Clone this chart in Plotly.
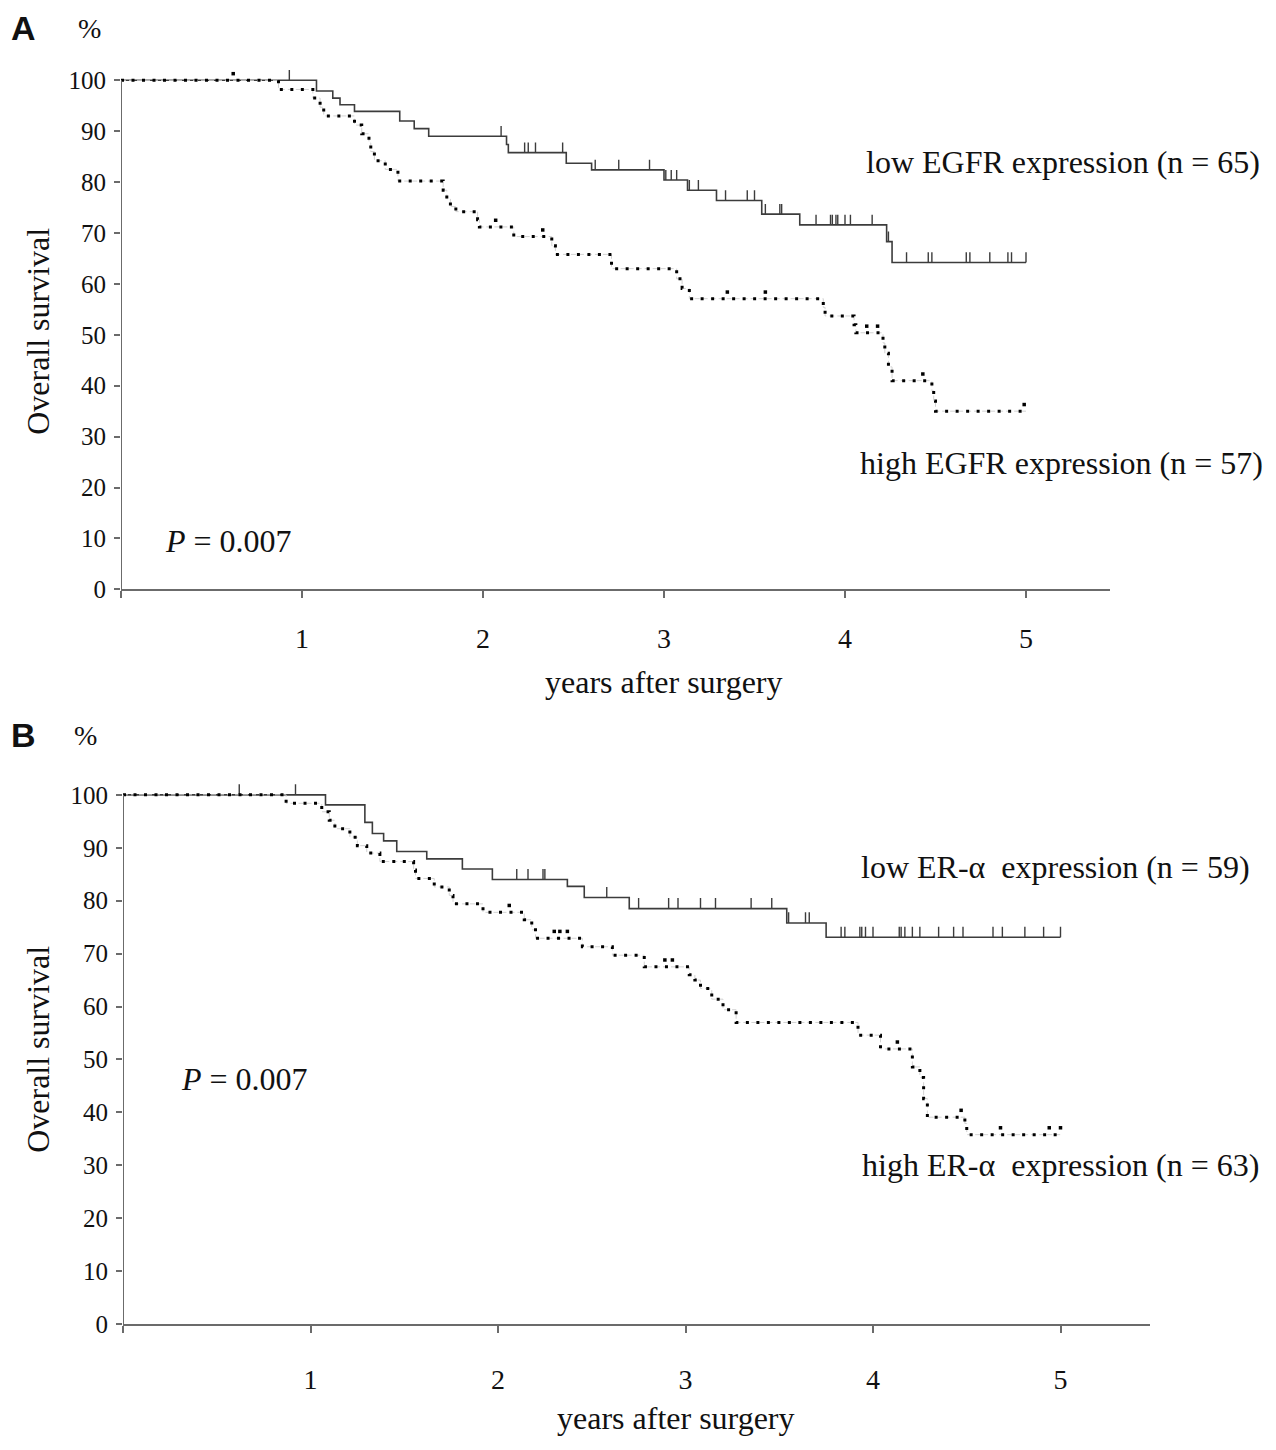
import numpy as np
import plotly.graph_objects as go

W, H = 1276, 1450

# ---------------- data ----------------
# Panel A: EGFR
a_low_time = [1.08, 1.17, 1.21, 1.29, 1.54, 1.62, 1.70, 2.13, 2.14, 2.46, 2.60, 3.00, 3.13, 3.29, 3.54, 3.75, 4.23, 4.26]
a_low_surv = [97.9, 96.5, 95.2, 93.9, 92.0, 90.5, 89.0, 87.4, 85.8, 83.7, 82.4, 80.4, 78.4, 76.4, 73.7, 71.6, 68.3, 64.2]
a_low_cens = [0.93, 2.10, 2.23, 2.25, 2.29, 2.44, 2.62, 2.75, 2.92, 3.01, 3.04, 3.07, 3.14, 3.19, 3.34,
              3.46, 3.50, 3.56, 3.64, 3.65, 3.84, 3.92, 3.93, 3.95, 3.96, 4.00, 4.03, 4.15, 4.24, 4.34,
              4.46, 4.48, 4.67, 4.69, 4.80, 4.90, 4.92, 5.00]

a_high_time = [0.87, 1.06, 1.10, 1.12, 1.29, 1.33, 1.37, 1.38, 1.40, 1.46, 1.53, 1.78, 1.80, 1.82, 1.85,
               1.97, 1.98, 2.17, 2.38, 2.40, 2.71, 3.07, 3.10, 3.14, 3.88, 3.89, 4.05, 4.06, 4.21, 4.22,
               4.24, 4.26, 4.48, 4.49, 4.50]
a_high_surv = [98.2, 96.5, 94.7, 93.0, 91.2, 89.5, 87.7, 86.0, 84.2, 82.5, 80.2, 78.4, 76.7, 75.2, 74.2,
               72.6, 71.2, 69.3, 67.5, 65.8, 63.0, 61.0, 59.1, 57.1, 55.4, 53.7, 52.0, 50.4, 48.4, 46.4,
               43.7, 41.0, 39.0, 37.0, 35.0]
a_high_cens = [0.62, 2.07, 2.33, 3.35, 3.56, 4.12, 4.18, 4.43, 4.99]

# Panel B: ER-alpha
b_low_time = [1.08, 1.29, 1.33, 1.39, 1.46, 1.62, 1.81, 1.97, 2.37, 2.46, 2.70, 3.54, 3.75]
b_low_surv = [98.1, 94.8, 92.7, 91.3, 89.3, 87.9, 86.0, 84.0, 82.7, 80.6, 78.5, 75.8, 73.1]
b_low_cens = [0.62, 0.92, 2.10, 2.16, 2.24, 2.25, 2.58, 2.75, 2.91, 2.96, 3.08, 3.16, 3.35, 3.46, 3.55,
              3.64, 3.66, 3.83, 3.85, 3.93, 3.94, 3.96, 4.00, 4.14, 4.15, 4.17, 4.21, 4.25, 4.35, 4.43,
              4.48, 4.64, 4.69, 4.81, 4.91, 5.00]

b_high_time = [0.87, 1.06, 1.10, 1.13, 1.21, 1.25, 1.30, 1.37, 1.55, 1.56, 1.66, 1.74, 1.76, 1.92, 2.14,
               2.18, 2.20, 2.45, 2.61, 2.78, 3.02, 3.05, 3.08, 3.14, 3.20, 3.27, 3.92, 4.04, 4.21, 4.25,
               4.27, 4.29, 4.49, 4.50]
b_high_surv = [98.4, 96.8, 95.2, 93.6, 92.0, 90.4, 89.0, 87.4, 85.8, 84.2, 82.6, 81.0, 79.4, 77.8, 76.4,
               74.5, 72.9, 71.3, 69.7, 67.5, 66.0, 65.0, 63.4, 61.4, 59.4, 57.0, 54.6, 52.0, 48.6, 46.6,
               42.6, 39.1, 37.9, 35.8]
b_high_cens = [2.06, 2.30, 2.33, 2.37, 2.89, 2.93, 4.13, 4.47, 4.68, 4.94, 5.00]

follow_up_end = 5.0
x_ticks = [0, 1, 2, 3, 4, 5]
x_tick_text = ["", "1", "2", "3", "4", "5"]
y_ticks = list(range(0, 101, 10))

labels_a = ["low EGFR expression (n = 65)", "high EGFR expression (n = 57)"]
labels_b = ["low ER-\u03b1\u00a0 expression (n = 59)", "high ER-\u03b1\u00a0 expression (n = 63)"]
p_text = "<i>P</i> = 0.007"

# ---------------- helpers ----------------
SERIF = "Liberation Serif"
SANS = "Liberation Sans"
AX_COL = "#6b6b6b"
LINE_COL = "#3c3c3c"
PAGE_OFF = 8  # default body margin of the html page


def px(x):
    return (x - PAGE_OFF) / W


def py(y):
    return 1 - (y - PAGE_OFF) / H


def step_value(times, surv, t):
    idx = np.searchsorted(np.asarray(times), np.asarray(t), side="right")
    arr = np.concatenate([[100.0], np.asarray(surv, dtype=float)])
    return arr[idx]


def step_xy(times, surv):
    return [0.0] + list(times) + [follow_up_end], [100.0] + list(surv) + [surv[-1]]


fig = go.Figure()


def add_panel(xr, yr, low_t, low_s, low_c, high_t, high_s, high_c):
    lx, ly = step_xy(low_t, low_s)
    fig.add_trace(go.Scatter(x=lx, y=ly, mode="lines", xaxis=xr, yaxis=yr, showlegend=False,
                             line=dict(shape="hv", color=LINE_COL, width=1.6), hoverinfo="skip"))
    cy = step_value(low_t, low_s, low_c)
    n = len(low_c)
    fig.add_trace(go.Scatter(x=low_c, y=cy, mode="markers", xaxis=xr, yaxis=yr, showlegend=False,
                             marker=dict(size=1, color="rgba(0,0,0,0)"),
                             error_y=dict(type="data", symmetric=False, array=[2.0] * n,
                                          arrayminus=[0.0] * n, width=0, thickness=1.4, color=LINE_COL),
                             hoverinfo="skip"))
    hx, hy = step_xy(high_t, high_s)
    fig.add_trace(go.Scatter(x=hx, y=hy, mode="lines", xaxis=xr, yaxis=yr, showlegend=False,
                             line=dict(shape="hv", color="#d2d2d2", width=1, dash="5px,3px"),
                             hoverinfo="skip"))
    fig.add_trace(go.Scatter(x=hx, y=hy, mode="lines", xaxis=xr, yaxis=yr, showlegend=False,
                             line=dict(shape="hv", color="#000000", width=3, dash="3px,7.5px"),
                             hoverinfo="skip"))
    hcy = step_value(high_t, high_s, high_c) + 1.3
    fig.add_trace(go.Scatter(x=high_c, y=hcy, mode="markers", xaxis=xr, yaxis=yr, showlegend=False,
                             marker=dict(symbol="square", size=3.5, color="#000000"),
                             hoverinfo="skip", cliponaxis=False))


add_panel("x", "y", a_low_time, a_low_surv, a_low_cens, a_high_time, a_high_surv, a_high_cens)
add_panel("x2", "y2", b_low_time, b_low_surv, b_low_cens, b_high_time, b_high_surv, b_high_cens)

# axis geometry (target pixels in the screenshot)
A_x0, A_x1, A_pxyr = 121, 1110, 181.0
A_y0, A_y100 = 595, 81
B_x0, B_x1, B_pxyr = 123, 1150, 187.5
B_y0, B_y100 = 1337, 802.5
Y_TOP = 104.5

A_ytop = A_y0 - (A_y0 - A_y100) * Y_TOP / 100
B_ytop = B_y0 - (B_y0 - B_y100) * Y_TOP / 100


def xaxis_style(standoff):
    return dict(tickvals=x_ticks, ticktext=x_tick_text, ticks="outside", ticklen=7, tickwidth=1.5,
                tickcolor=AX_COL, showline=True, linecolor=AX_COL, linewidth=2, showgrid=False,
                zeroline=False, tickfont=dict(family=SERIF, size=28, color="#111"),
                ticklabelstandoff=standoff)


ycommon = dict(tickvals=y_ticks, ticks="outside", ticklen=6, tickwidth=1.5, tickcolor=AX_COL,
               showline=False, showgrid=False, zeroline=False, range=[0, Y_TOP],
               tickfont=dict(family=SERIF, size=25, color="#111"), ticklabelstandoff=3)

fig.update_layout(
    width=W, height=H, margin=dict(l=0, r=0, t=0, b=0),
    paper_bgcolor="white", plot_bgcolor="white", showlegend=False,
    xaxis=dict(domain=[px(A_x0), px(A_x1)], range=[0, (A_x1 - A_x0) / A_pxyr], anchor="y", **xaxis_style(16)),
    yaxis=dict(domain=[py(A_y0), py(A_ytop)], anchor="x", **ycommon),
    xaxis2=dict(domain=[px(B_x0), px(B_x1)], range=[0, (B_x1 - B_x0) / B_pxyr], anchor="y2", **xaxis_style(22)),
    yaxis2=dict(domain=[py(B_y0), py(B_ytop)], anchor="x2", **ycommon),
)

for xr, yr in (("x", "y"), ("x2", "y2")):
    fig.add_shape(type="line", xref=xr, yref=yr, x0=0, x1=0, y0=0, y1=100,
                  line=dict(color=AX_COL, width=2))


def ann(text, x, y, size=32, family=SERIF, angle=0):
    fig.add_annotation(text=text, x=px(x), y=py(y), xref="paper", yref="paper", showarrow=False,
                       xanchor="center", yanchor="middle", textangle=angle,
                       font=dict(family=family, size=size, color="#111"))


# Panel A texts
ann("<b>A</b>", 23, 28, size=34, family=SANS)
ann("%", 89, 29, size=28)
ann(labels_a[0], 1063, 163)
ann(labels_a[1], 1061, 467)
ann(p_text, 228, 546)
ann("Overall survival", 38, 335, angle=-90)
ann("years after surgery", 664, 689)

# Panel B texts
ann("<b>B</b>", 23, 742, size=34, family=SANS)
ann("%", 85, 743, size=28)
ann(labels_b[0], 1055, 875)
ann(labels_b[1], 1060, 1176)
ann(p_text, 244, 1089)
ann("Overall survival", 38, 1060, angle=-90)
ann("years after surgery", 676, 1432)

fig.write_html("out.html")
